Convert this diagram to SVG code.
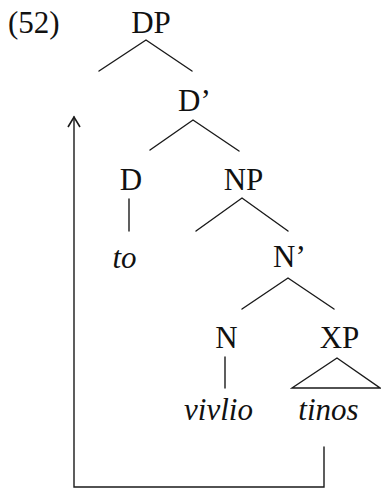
<svg xmlns="http://www.w3.org/2000/svg" width="381" height="489" viewBox="0 0 381 489">
<style>
text{font-family:"Liberation Serif","Times New Roman",serif;font-size:31px;fill:#111;text-anchor:middle}
.it{font-style:italic}
.ln{stroke:#1a1a1a;stroke-width:1.4;fill:none;stroke-linecap:round}
</style>
<defs>
<marker id="ah" markerWidth="14" markerHeight="14" refX="11" refY="7" orient="auto" markerUnits="userSpaceOnUse">
<path d="M1,1 L11,7 L1,13" fill="none" stroke="#1a1a1a" stroke-width="1.6"/>
</marker>
</defs>
<rect width="381" height="489" fill="#fff"/>
<g id="label"><text x="8" y="33" style="text-anchor:start">(52)</text></g>
<g id="DP"><text x="151" y="33">DP</text></g>
<g id="Dbar"><text x="178" y="111" style="text-anchor:start">D’</text></g>
<g id="D"><text x="131" y="190">D</text></g>
<g id="to"><text class="it" x="124.5" y="268">to</text></g>
<g id="NP"><text x="243.5" y="190">NP</text></g>
<g id="Nbar"><text x="273" y="267" style="text-anchor:start">N’</text></g>
<g id="N"><text x="226.5" y="348">N</text></g>
<g id="XP"><text x="339.5" y="348">XP</text></g>
<g id="vivlio"><text class="it" x="218.5" y="420">vivlio</text></g>
<g id="tinos"><text class="it" x="328.5" y="420">tinos</text></g>
<g id="connectors">
<path class="ln" d="M99,71 L146,40 L192,71"/>
<path class="ln" d="M150,150 L193,120 L239,151"/>
<path class="ln" d="M129,199 V231"/>
<path class="ln" d="M196,231 L242,198 L288,231"/>
<path class="ln" d="M242,309 L288,278 L334,309"/>
<path class="ln" d="M225,357 V388"/>
<path class="ln" d="M337,358 L292,388 L380,388 Z"/>
<path class="ln" d="M324,447 V487 H74 V117" marker-end="url(#ah)"/>
</g>
</svg>
